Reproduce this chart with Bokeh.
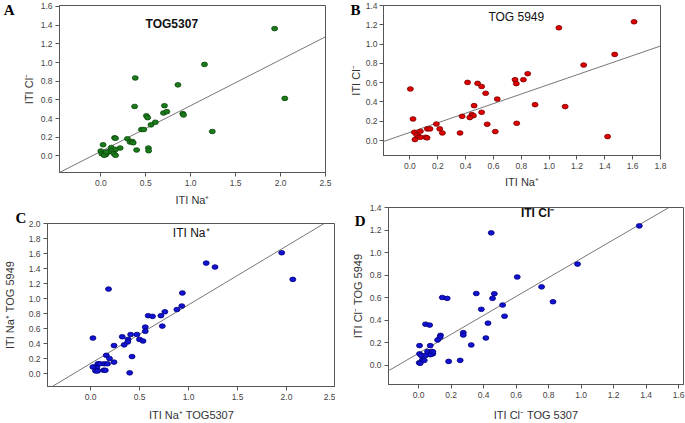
from bokeh.plotting import figure
from bokeh.layouts import row, column
from bokeh.models import Label, FixedTicker, NumeralTickFormatter, Range1d, LinearAxis
from bokeh.embed import file_html
from bokeh.resources import INLINE

# ---------------- data ----------------
# Panel A: TOG5307  (x = ITI Na+, y = ITI Cl-)
a_na = [1.934, 1.153, 2.047, 0.858, 0.383, 1.24, 0.376, 0.708, 0.697, 0.734,
        0.507, 0.521, 0.558, 0.606, 0.452, 0.478, 0.912, 0.92, 0.296, 0.325,
        0.35, 0.36, 0.398, 0.529, 0.532, 0.153, 0.163, 0.215, 0.025, 0.116,
        0.164, 0.11, 0.083, 0.0, 0.011, 0.04, 0.055, 0.036, 0.06, 0.146, 0.164]
a_cl = [1.363, 0.98, 0.616, 0.761, 0.835, 0.262, 0.53, 0.538, 0.46, 0.474,
        0.43, 0.41, 0.333, 0.361, 0.283, 0.283, 0.453, 0.439, 0.184, 0.149,
        0.155, 0.141, 0.064, 0.085, 0.056, 0.194, 0.19, 0.085, 0.12, 0.091,
        0.07, 0.06, 0.042, 0.053, 0.024, 0.028, 0.014, 0.007, 0.042, 0.024, 0.007]

# Panel B: TOG 5949 (x = ITI Na+, y = ITI Cl-)
b_na = [1.61, 1.07, 1.471, 1.248, 1.42, 1.115, 0.899, 0.846, 0.815, 0.755,
        0.764, 0.767, 0.627, 0.613, 0.555, 0.544, 0.515, 0.486, 0.414, 0.515,
        0.461, 0.445, 0.456, 0.43, 0.375, 0.36, 0.19, 0.214, 0.233, 0.125,
        0.144, 0.113, 0.123, 0.003, 0.022, 0.032, 0.048, 0.075, 0.063, 0.075, 0.036]
b_cl = [1.231, 1.169, 0.893, 0.783, 0.041, 0.352, 0.372, 0.693, 0.631, 0.631,
        0.59, 0.179, 0.43, 0.093, 0.169, 0.49, 0.56, 0.593, 0.603, 0.293,
        0.362, 0.269, 0.258, 0.238, 0.251, 0.079, 0.172, 0.121, 0.079, 0.121,
        0.121, 0.034, 0.028, 0.535, 0.224, 0.086, 0.059, 0.096, 0.041, 0.034, 0.01]

# Panel C: ITI Na+ (x = TOG5307, y = TOG 5949)
c_x = [1.951, 2.064, 1.18, 1.27, 0.183, 0.937, 0.931, 0.881, 0.758, 0.718,
       0.732, 0.588, 0.632, 0.558, 0.558, 0.473, 0.409, 0.323, 0.383, 0.379,
       0.343, 0.499, 0.535, 0.239, 0.024, 0.16, 0.193, 0.423, 0.239, 0.074,
       0.14, 0.173, 0.04, 0.063, 0.133, 0.057, 0.399, 0.023, 0.05, 0.073, 0.15, 0.096]
c_y = [1.61, 1.255, 1.472, 1.42, 1.126, 1.074, 0.90, 0.853, 0.823, 0.771,
       0.632, 0.771, 0.762, 0.619, 0.563, 0.52, 0.52, 0.49, 0.455, 0.421,
       0.382, 0.455, 0.434, 0.373, 0.473, 0.243, 0.2, 0.226, 0.152, 0.13,
       0.13, 0.13, 0.087, 0.078, 0.044, 0.044, 0.009, 0.087, 0.035, 0.035, 0.043, 0.13]

# Panel D: ITI Cl- (x = TOG 5307, y = TOG 5949)
d_x = [1.358, 0.447, 0.978, 0.607, 0.757, 0.827, 0.355, 0.466, 0.455, 0.517,
       0.386, 0.529, 0.427, 0.414, 0.324, 0.275, 0.275, 0.256, 0.185, 0.146,
       0.176, 0.043, 0.068, 0.135, 0.132, 0.117, 0.072, 0.006, 0.006, 0.016,
       0.055, 0.082, 0.088, 0.072, 0.043, 0.023, 0.035, 0.004, 0.01, 0.088]
d_y = [1.237, 1.175, 0.898, 0.784, 0.696, 0.564, 0.637, 0.635, 0.594, 0.535,
       0.497, 0.436, 0.374, 0.243, 0.181, 0.29, 0.269, 0.044, 0.035, 0.602,
       0.594, 0.365, 0.357, 0.266, 0.25, 0.225, 0.175, 0.175, 0.102, 0.088,
       0.123, 0.123, 0.102, 0.094, 0.088, 0.047, 0.044, 0.023, 0.018, 0.12]

# regression lines (end points)
a_line_x = [-0.46, 2.5];  a_line_y = [-0.177, 1.275]
b_line_x = [-0.19, 1.8];  b_line_y = [-0.01, 0.98]
c_line_x = [-0.392, 2.384]; c_line_y = [-0.173, 2.0]
d_line_x = [-0.18, 1.54]; d_line_y = [-0.044, 1.40]

ticks_a_x = [0.0, 0.5, 1.0, 1.5, 2.0, 2.5]
ticks_a_y = [0.0, 0.2, 0.4, 0.6, 0.8, 1.0, 1.2, 1.4, 1.6]
ticks_b_x = [0.0, 0.2, 0.4, 0.6, 0.8, 1.0, 1.2, 1.4, 1.6, 1.8]
ticks_b_y = [0.0, 0.2, 0.4, 0.6, 0.8, 1.0, 1.2, 1.4]
ticks_c_x = [0.0, 0.5, 1.0, 1.5, 2.0, 2.5]
ticks_c_y = [0.0, 0.2, 0.4, 0.6, 0.8, 1.0, 1.2, 1.4, 1.6, 1.8, 2.0]
ticks_d_x = [0.0, 0.2, 0.4, 0.6, 0.8, 1.0, 1.2, 1.4, 1.6]
ticks_d_y = [0.0, 0.2, 0.4, 0.6, 0.8, 1.0, 1.2, 1.4]

SANS = "Liberation Sans"
SERIF = "Liberation Serif"


def panel(w, h, bl, br, bt, bb, xr, yr, xt, yt, xlabel, ylabel, xs, ys):
    p = figure(width=w, height=h, x_range=Range1d(*xr), y_range=Range1d(*yr),
               output_backend="svg", toolbar_location=None,
               min_border_left=bl, min_border_right=br,
               min_border_top=bt, min_border_bottom=bb)
    p.grid.visible = False
    p.outline_line_color = "#555555"
    p.outline_line_width = 1
    p.background_fill_color = "white"
    p.border_fill_color = "white"
    p.xaxis.ticker = FixedTicker(ticks=xt)
    p.yaxis.ticker = FixedTicker(ticks=yt)
    p.axis.formatter = NumeralTickFormatter(format="0.0")
    p.axis.axis_line_color = "#555555"
    p.axis.major_tick_line_color = "#555555"
    p.axis.major_tick_out = 4
    p.axis.major_tick_in = 0
    p.axis.minor_tick_line_color = None
    p.axis.major_label_text_font = SANS
    p.axis.major_label_text_font_size = "8.5px"
    p.axis.major_label_text_color = "#444444"
    p.axis.major_label_standoff = 3
    p.axis.axis_label_text_font = SANS
    p.axis.axis_label_text_font_size = "11px"
    p.axis.axis_label_text_font_style = "normal"
    p.axis.axis_label_text_color = "#333333"
    p.xaxis.axis_label_standoff = xs
    p.yaxis.axis_label_standoff = ys
    p.xaxis.axis_label = xlabel
    p.yaxis.axis_label = ylabel
    return p


def dots(p, x, y, fill, edge):
    p.ellipse(x=x, y=y, width=6, height=4.6, width_units="screen",
              height_units="screen", fill_color=fill, line_color=edge,
              line_width=0.8)


def letter(p, txt, ytick, standoff):
    # panel letter drawn as the only tick label of an extra, invisible left axis
    ax = LinearAxis(ticker=FixedTicker(ticks=[ytick]),
                    major_label_overrides={ytick: txt})
    ax.axis_line_color = None
    ax.major_tick_line_color = None
    ax.minor_tick_line_color = None
    ax.major_tick_out = 0
    ax.major_tick_in = 0
    ax.major_label_standoff = standoff
    ax.major_label_text_font = SERIF
    ax.major_label_text_font_style = "bold"
    ax.major_label_text_font_size = "15px"
    ax.major_label_text_color = "black"
    p.add_layout(ax, "left")


def title(p, txt, x, y, bold):
    p.add_layout(Label(x=x, y=y, text=txt, text_font=SANS,
                       text_font_style="bold" if bold else "normal",
                       text_font_size="12px", text_align="center",
                       text_baseline="middle", text_color="#111111"))


# Panel A  (canvas 335 x 208)
pa = panel(335, 208, 55, 10, 5, 36, (-0.46, 2.5), (-0.177, 1.61),
           ticks_a_x, ticks_a_y, "ITI Na⁺", "ITI Cl⁻", 5, 3)
pa.line(a_line_x, a_line_y, line_color="#777777", line_width=1)
dots(pa, a_na, a_cl, "#1b7a1b", "#0a4a0a")
title(pa, "TOG5307", 0.79, 1.417, True)
letter(pa, "A", 1.56, 5)

# Panel B  (canvas 350 x 198)
pb = panel(350, 198, 48, 25, 5, 43, (-0.19, 1.8), (-0.155, 1.4),
           ticks_b_x, ticks_b_y, "ITI Na⁺", "ITI Cl⁻", 4, 1)
pb.yaxis.major_label_standoff = 2
pb.line(b_line_x, b_line_y, line_color="#777777", line_width=1)
dots(pb, b_na, b_cl, "#dd0000", "#7a0000")
title(pb, "TOG 5949", 0.764, 1.282, False)
letter(pb, "B", 1.358, -14)

# Panel C  (canvas 335 x 215)
pc = panel(335, 215, 45, 0, 15, 37, (-0.44, 2.5), (-0.173, 2.0),
           ticks_c_x, ticks_c_y, "ITI Na⁺ TOG5307", "ITI Na⁺ TOG 5949", 6, 10)
pc.line(c_line_x, c_line_y, line_color="#777777", line_width=1)
dots(pc, c_x, c_y, "#1212d2", "#00007a")
title(pc, "ITI Na⁺", 1.027, 1.87, False)
pc.title.text = "C"
pc.title.align = "left"
pc.title.offset = -32
pc.title.standoff = -4
pc.title.text_font = SERIF
pc.title.text_font_style = "bold"
pc.title.text_font_size = "15px"
pc.title.text_color = "black"

# Panel D  (canvas 350 x 225)
pd_ = panel(350, 225, 53, 2, 9, 39, (-0.185, 1.63), (-0.17, 1.4),
            ticks_d_x, ticks_d_y, "ITI Cl⁻ TOG 5307", "ITI Cl⁻ TOG 5949", 8, 3)
pd_.line(d_line_x, d_line_y, line_color="#777777", line_width=1)
dots(pd_, d_x, d_y, "#1212d2", "#00007a")
title(pd_, "ITI Cl⁻", 0.732, 1.348, True)
letter(pd_, "D", 1.28, -17)

# each figure wrapped on its own so that frames are not aligned across panels
layout = row(column(row(pa), row(pc)), column(row(pb), row(pd_)))

open("out.html", "w").write(file_html(layout, INLINE))
